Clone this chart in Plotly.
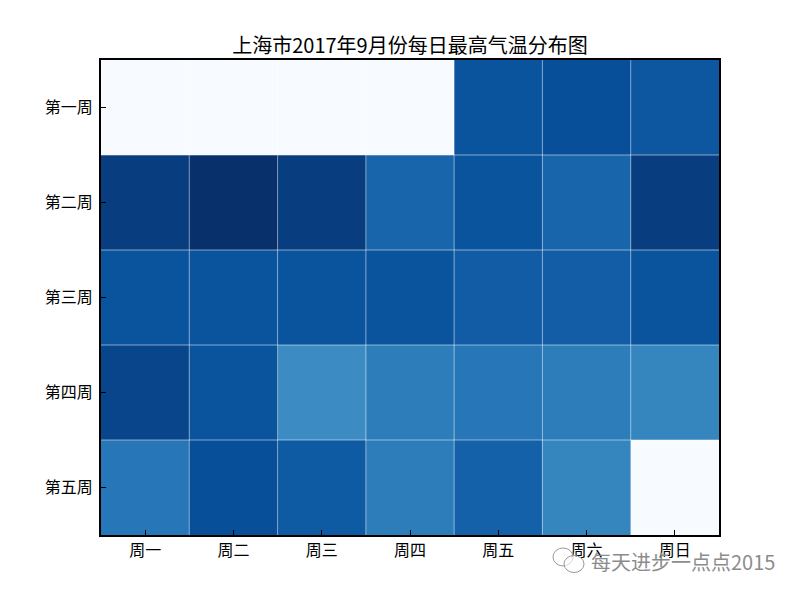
import plotly.graph_objects as go

days = ["周一", "周二", "周三", "周四", "周五", "周六", "周日"]
weeks = ["第一周", "第二周", "第三周", "第四周", "第五周"]
temps = [
    [0, 0, 0, 0, 32, 32.6, 31.5],
    [35, 37, 35, 29.5, 32, 29.5, 35],
    [32, 32, 32, 32, 30.8, 30.6, 32],
    [34, 32, 24, 26, 27, 26, 25],
    [27, 32.6, 31, 26, 30, 25, 0],
]
title = "上海市2017年9月份每日最高气温分布图"
watermark = "每天进步一点点2015"

FONT = "Noto Sans CJK SC, DejaVu Sans"
blues = [[0, "#f7fbff"], [.125, "#deebf7"], [.25, "#c6dbef"], [.375, "#9ecae1"],
         [.5, "#6baed6"], [.625, "#4292c6"], [.75, "#2171b5"], [.875, "#08519c"], [1, "#08306b"]]

fig = go.Figure(go.Heatmap(z=temps, x=list(range(len(days))), y=list(range(len(weeks))),
                           colorscale=blues, zmin=0, zmax=37, showscale=False))

# semi-transparent cell edges (drawn on top of the cells)
edge = dict(color="rgba(255,255,255,0.5)", width=1)
for i in range(1, len(days)):
    fig.add_shape(type="line", xref="x", yref="paper", x0=i - .5, x1=i - .5, y0=0, y1=1, line=edge)
for j in range(1, len(weeks)):
    fig.add_shape(type="line", xref="paper", yref="y", x0=0, x1=1, y0=j - .5, y1=j - .5, line=edge)

axis = dict(showgrid=False, zeroline=False, ticks="inside", ticklen=5, tickwidth=1, tickcolor="black",
            showline=True, linecolor="black", linewidth=2, mirror=True,
            tickfont=dict(family=FONT, size=16, color="black"))
fig.update_xaxes(range=[-.5, len(days) - .5], tickmode="array", tickvals=list(range(len(days))), ticktext=days, **axis)
fig.update_yaxes(range=[len(weeks) - .5, -.5], tickmode="array", tickvals=list(range(len(weeks))), ticktext=weeks,
                 ticklabelstandoff=3, **axis)

# the page has an 8px body margin, so the figure is 8px smaller each way
fig.update_layout(width=792, height=588, margin=dict(l=93, r=81, t=52, b=61, autoexpand=False),
                  paper_bgcolor="white", plot_bgcolor="white", font=dict(family=FONT),
                  title=dict(text=title, x=0.5075, xanchor="center", y=0.9354, yanchor="middle",
                             font=dict(family=FONT, size=20, color="black")))

fig.add_annotation(text=watermark, xref="paper", yref="paper", x=1.0945, xanchor="right", y=-0.0555, yanchor="middle",
                   showarrow=False, font=dict(family=FONT, size=20, color="#8c8c8c"))

# WeChat-style double bubble beside the watermark
for cx, cy, rx, ry in [(563, 557, 10, 9), (574, 564, 10, 8.5)]:
    fig.add_shape(type="circle", xref="paper", yref="paper", layer="above",
                  x0=(cx - rx - 101) / 618, x1=(cx + rx - 101) / 618,
                  y0=(535 - cy - ry) / 475, y1=(535 - cy + ry) / 475,
                  line=dict(color="#9a9a9a", width=1), fillcolor="rgba(255,255,255,0.6)")

fig.write_html("out.html")
